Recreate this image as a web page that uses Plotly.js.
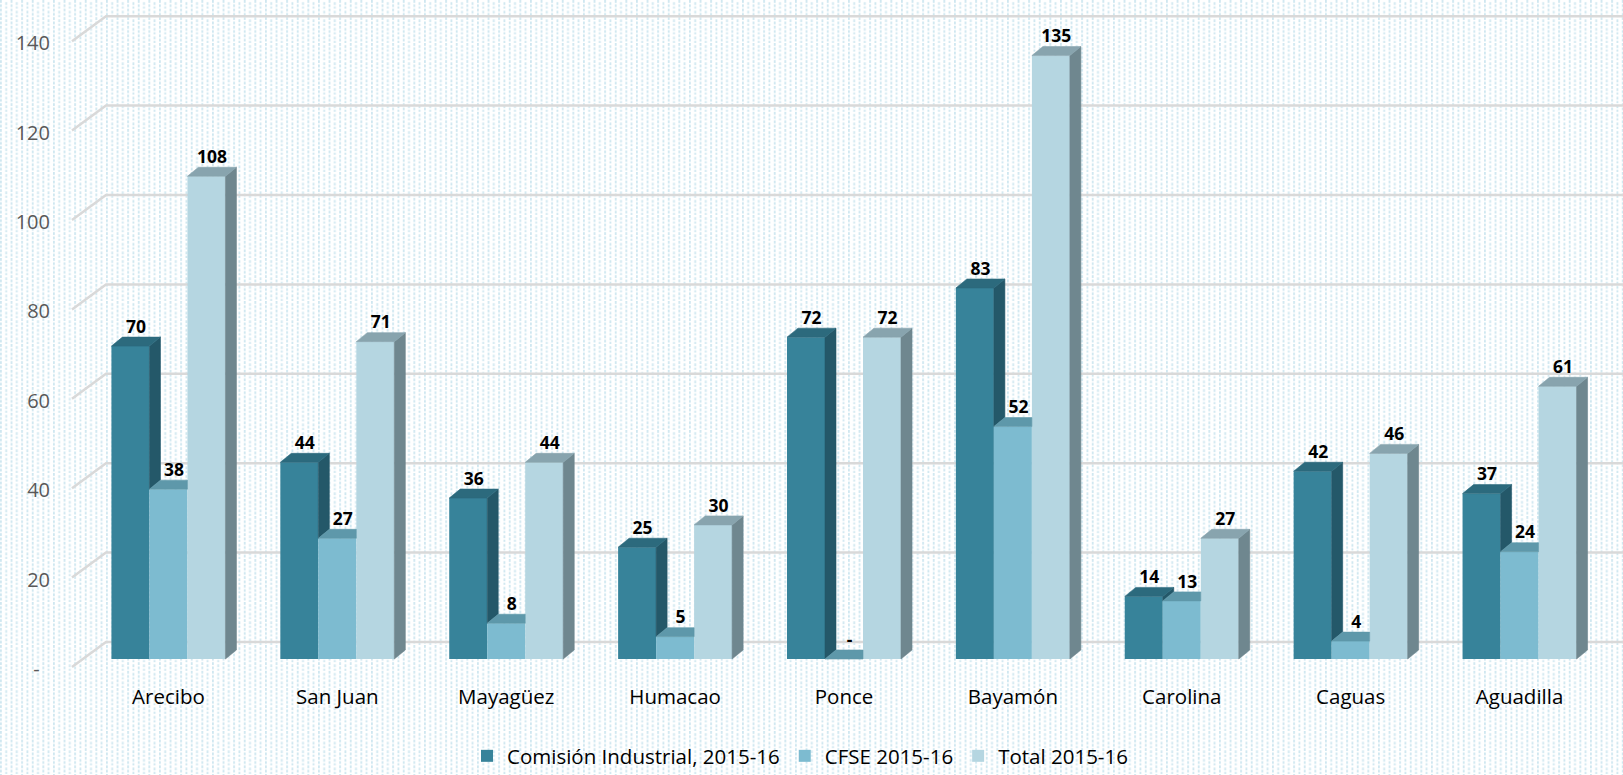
<!DOCTYPE html>
<html>
<head>
<meta charset="utf-8">
<script src="https://cdn.plot.ly/plotly-3.0.1.min.js"></script>
<style>html,body{margin:0;padding:0;background:#fff;}#chart{width:1623px;height:775px;}</style>
</head>
<body>
<div id="chart"></div>
<script>
// ---- data ----
const categories = ['Arecibo', 'San Juan', 'Mayagüez', 'Humacao', 'Ponce', 'Bayamón', 'Carolina', 'Caguas', 'Aguadilla'];
const comisionIndustrial = [70, 44, 36, 25, 72, 83, 14, 42, 37];
const cfse = [38, 27, 8, 5, 0, 52, 13, 4, 24];
const total = [108, 71, 44, 30, 72, 135, 27, 46, 61];
const seriesNames = ['Comisión Industrial, 2015-16', 'CFSE 2015-16', 'Total 2015-16'];
const yTickVals = [0, 20, 40, 60, 80, 100, 120, 140];
const yTickText = ['-\u00a0\u00a0', '20', '40', '60', '80', '100', '120', '140'];

// ---- style ----
const W = 1623, H = 775, ML = 84, MR = 19, MT = 10, MB = 103;
const zeroPx = 659;          // pixel row of value 0 at bar fronts
const pxPerUnit = 4.47;      // vertical scale
const plotW = W - ML - MR, plotH = H - MT - MB;
const plotBottom = H - MB;
const yRange = [-(plotBottom - zeroPx) / pxPerUnit, (zeroPx - MT) / pxPerUnit];
const pxPerCat = plotW / categories.length;
const bargap = 0.325;
const depthX = 11 / pxPerCat;   // 3D depth in x units
const depthY = 9 / pxPerUnit;   // 3D depth in y units

const colors = {
  front: ['#37839A', '#7DBBD0', '#B5D6E1'],
  top:   ['#2C6A7D', '#5E98AA', '#88A4AE'],
  side:  ['#245869', '#4E8394', '#6F878F']
};

const series = [comisionIndustrial, cfse, total];
const idx = categories.map((_, i) => i);
const groupW = 1 - bargap;
const barW = groupW / series.length;

function polyTrace(polys, color) {
  const x = [], y = [];
  polys.forEach(p => {
    p.forEach(pt => { x.push(pt[0]); y.push(pt[1]); });
    x.push(p[0][0]); y.push(p[0][1]);
    x.push(null); y.push(null);
  });
  return {type: 'scatter', x, y, mode: 'lines', fill: 'toself', fillcolor: color,
          line: {width: 0.6, color: color}, hoverinfo: 'skip', showlegend: false};
}

const traces = [];
// front faces: real bar traces
series.forEach((vals, k) => {
  traces.push({
    type: 'bar', x: idx, y: vals, name: seriesNames[k],
    marker: {color: colors.front[k], line: {width: 0}},
    hoverinfo: 'y+name'
  });
});

// top and side faces
const labelX = [], labelY = [], labelT = [];
series.forEach((vals, k) => {
  const tops = [], sides = [];
  vals.forEach((v, i) => {
    const xL = i - groupW / 2 + k * barW;
    const xR = xL + barW;
    const next = k < series.length - 1 ? series[k + 1][i] : null;
    if (next !== null && next > v) {
      tops.push([[xL, v], [xR, v], [xR, v + depthY], [xL + depthX, v + depthY]]);
    } else {
      tops.push([[xL, v], [xR, v], [xR + depthX, v + depthY], [xL + depthX, v + depthY]]);
    }
    const base = next === null ? 0 : next;
    if (v > base || next === null) {
      sides.push([[xR, base], [xR + depthX, base + depthY], [xR + depthX, v + depthY], [xR, v]]);
    }
    labelX.push((xL + xR) / 2 + depthX / 2);
    labelY.push(v + depthY);
    labelT.push(v === 0 ? '-' : String(v));
  });
  traces.push(polyTrace(sides, colors.side[k]));
  traces.push(polyTrace(tops, colors.top[k]));
});

traces.push({
  type: 'scatter', mode: 'text', x: labelX, y: labelY, text: labelT,
  textposition: 'top center', cliponaxis: false, showlegend: false, hoverinfo: 'skip',
  textfont: {family: 'Open Sans', size: 17.5, color: '#000000', weight: 'bold'}
});

// 3D gridlines (back wall + floor slant)
const shapes = yTickVals.map(t => ({
  type: 'path', layer: 'below',
  xref: 'paper', xsizemode: 'pixel', xanchor: 0,
  yref: 'y', ysizemode: 'pixel', yanchor: t,
  path: `M -12 -8 L 22 17 L ${W - ML} 17`,
  line: {color: '#D9D9D9', width: 2.5}
}));

// dotted background texture
const dot = '#CFE7F0';
const svg = `<svg xmlns='http://www.w3.org/2000/svg' width='${W}' height='${H}'>` +
  `<defs><pattern id='p' width='10.6' height='8.6' patternUnits='userSpaceOnUse'>` +
  `<rect x='0' y='0' width='1.8' height='2.8' fill='${dot}'/>` +
  `<rect x='0' y='4.3' width='1.8' height='2.8' fill='${dot}'/>` +
  `<rect x='5.3' y='2.15' width='1.8' height='2.8' fill='${dot}'/>` +
  `<rect x='5.3' y='6.45' width='1.8' height='2.8' fill='${dot}'/>` +
  `</pattern></defs><rect width='100%' height='100%' fill='#ffffff'/>` +
  `<rect width='100%' height='100%' fill='url(#p)'/></svg>`;
const bgSource = 'data:image/svg+xml;charset=utf-8,' + encodeURIComponent(svg);

const layout = {
  width: W, height: H,
  margin: {l: ML, r: MR, t: MT, b: MB},
  paper_bgcolor: '#ffffff', plot_bgcolor: 'rgba(0,0,0,0)',
  barmode: 'group', bargap: bargap, bargroupgap: 0,
  font: {family: 'Open Sans', color: '#000'},
  xaxis: {
    type: 'linear', range: [-0.5, categories.length - 0.5],
    tickvals: idx, ticktext: categories,
    showgrid: false, zeroline: false, showline: false, ticks: '',
    tickfont: {family: 'Open Sans', size: 20.5, color: '#000000'},
    ticklabelstandoff: 10, fixedrange: true
  },
  yaxis: {
    range: yRange, tickvals: yTickVals, ticktext: yTickText,
    showgrid: false, zeroline: false, showline: false, ticks: '',
    tickfont: {family: 'Open Sans', size: 20, color: '#595959'},
    ticklabelshift: 10, ticklabelstandoff: 33, fixedrange: true
  },
  showlegend: true,
  legend: {
    orientation: 'h', xref: 'container', yref: 'container',
    x: 800 / W, xanchor: 'center', y: 1 - 756 / H, yanchor: 'middle',
    font: {family: 'Open Sans', size: 20.5, color: '#000000'},
    traceorder: 'normal', itemwidth: 30, bgcolor: 'rgba(0,0,0,0)'
  },
  shapes: shapes,
  images: [{
    source: bgSource, xref: 'paper', yref: 'paper',
    x: -ML / plotW, y: 1 + MT / plotH, sizex: W / plotW, sizey: H / plotH,
    xanchor: 'left', yanchor: 'top', sizing: 'stretch', layer: 'below'
  }]
};

Plotly.newPlot('chart', traces, layout, {displayModeBar: false, staticPlot: true});
</script>
</body>
</html>
